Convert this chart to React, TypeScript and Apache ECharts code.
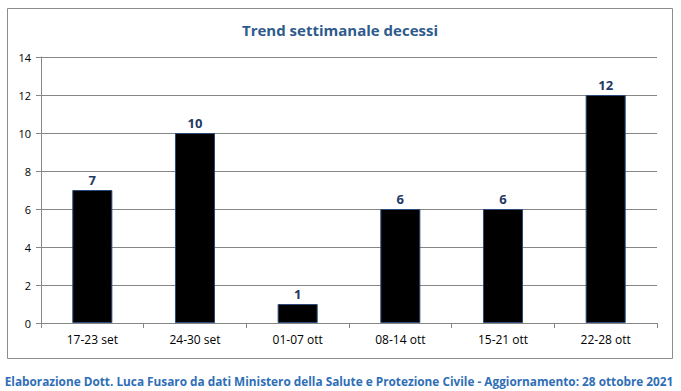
import React, { useEffect, useRef } from "react";
import * as echarts from "echarts";

const categories = ["17-23 set", "24-30 set", "01-07 ott", "08-14 ott", "15-21 ott", "22-28 ott"];
const deaths = [7, 10, 1, 6, 6, 12];
const titleText = "Trend settimanale decessi";
const footerText = "Elaborazione Dott. Luca Fusaro da dati Ministero della Salute e Protezione Civile - Aggiornamento: 28 ottobre 2021";

export default function App() {
  const ref = useRef<HTMLDivElement>(null);
  useEffect(() => {
    document.body.style.margin = "0";
    const chart = echarts.init(ref.current!, null, { renderer: "svg" });
    chart.setOption({
      animation: false,
      backgroundColor: "#ffffff",
      textStyle: { fontFamily: "Open Sans" },
      graphic: [
        {
          type: "rect",
          shape: { x: 7.5, y: 8.5, width: 665, height: 350 },
          style: { fill: "none", stroke: "#8c8c8c", lineWidth: 1 },
          silent: true,
        },
        {
          type: "text",
          x: 340,
          y: 30,
          style: {
            text: titleText,
            fill: "#2E5A8C",
            font: "bold 15px 'Open Sans'",
            align: "center",
            verticalAlign: "middle",
          },
        },
        {
          type: "text",
          x: 339,
          y: 381,
          style: {
            text: footerText,
            fill: "#2F6EB6",
            font: "bold 11.8px 'Open Sans'",
            align: "center",
            verticalAlign: "middle",
          },
        },
      ],
      grid: { left: 41, right: 24, top: 57, bottom: 68, containLabel: false },
      xAxis: {
        type: "category",
        data: categories,
        axisLine: { lineStyle: { color: "#868686" } },
        axisTick: { show: true, inside: false, length: 5, lineStyle: { color: "#868686" } },
        axisLabel: { color: "#000", fontSize: 12, margin: 10, fontFamily: "Open Sans" },
      },
      yAxis: {
        type: "value",
        min: 0,
        max: 14,
        interval: 2,
        axisLine: { show: true, lineStyle: { color: "#868686" } },
        axisTick: { show: true, inside: false, length: 5, lineStyle: { color: "#868686" } },
        splitLine: { lineStyle: { color: "#868686" } },
        axisLabel: { color: "#000", fontSize: 11, margin: 10, fontFamily: "Open Sans" },
      },
      series: [
        {
          type: "bar",
          data: deaths,
          barWidth: "39%",
          itemStyle: { color: "#000000", borderColor: "#2a4a7a", borderWidth: 1 },
          label: {
            show: true,
            position: "top",
            distance: 4,
            color: "#1F3864",
            fontWeight: "bold",
            fontSize: 13,
            fontFamily: "Open Sans",
          },
        },
      ],
    });
    return () => chart.dispose();
  }, []);
  return <div ref={ref} style={{ width: 681, height: 391, position: "absolute", left: 0, top: 0 }} />;
}
